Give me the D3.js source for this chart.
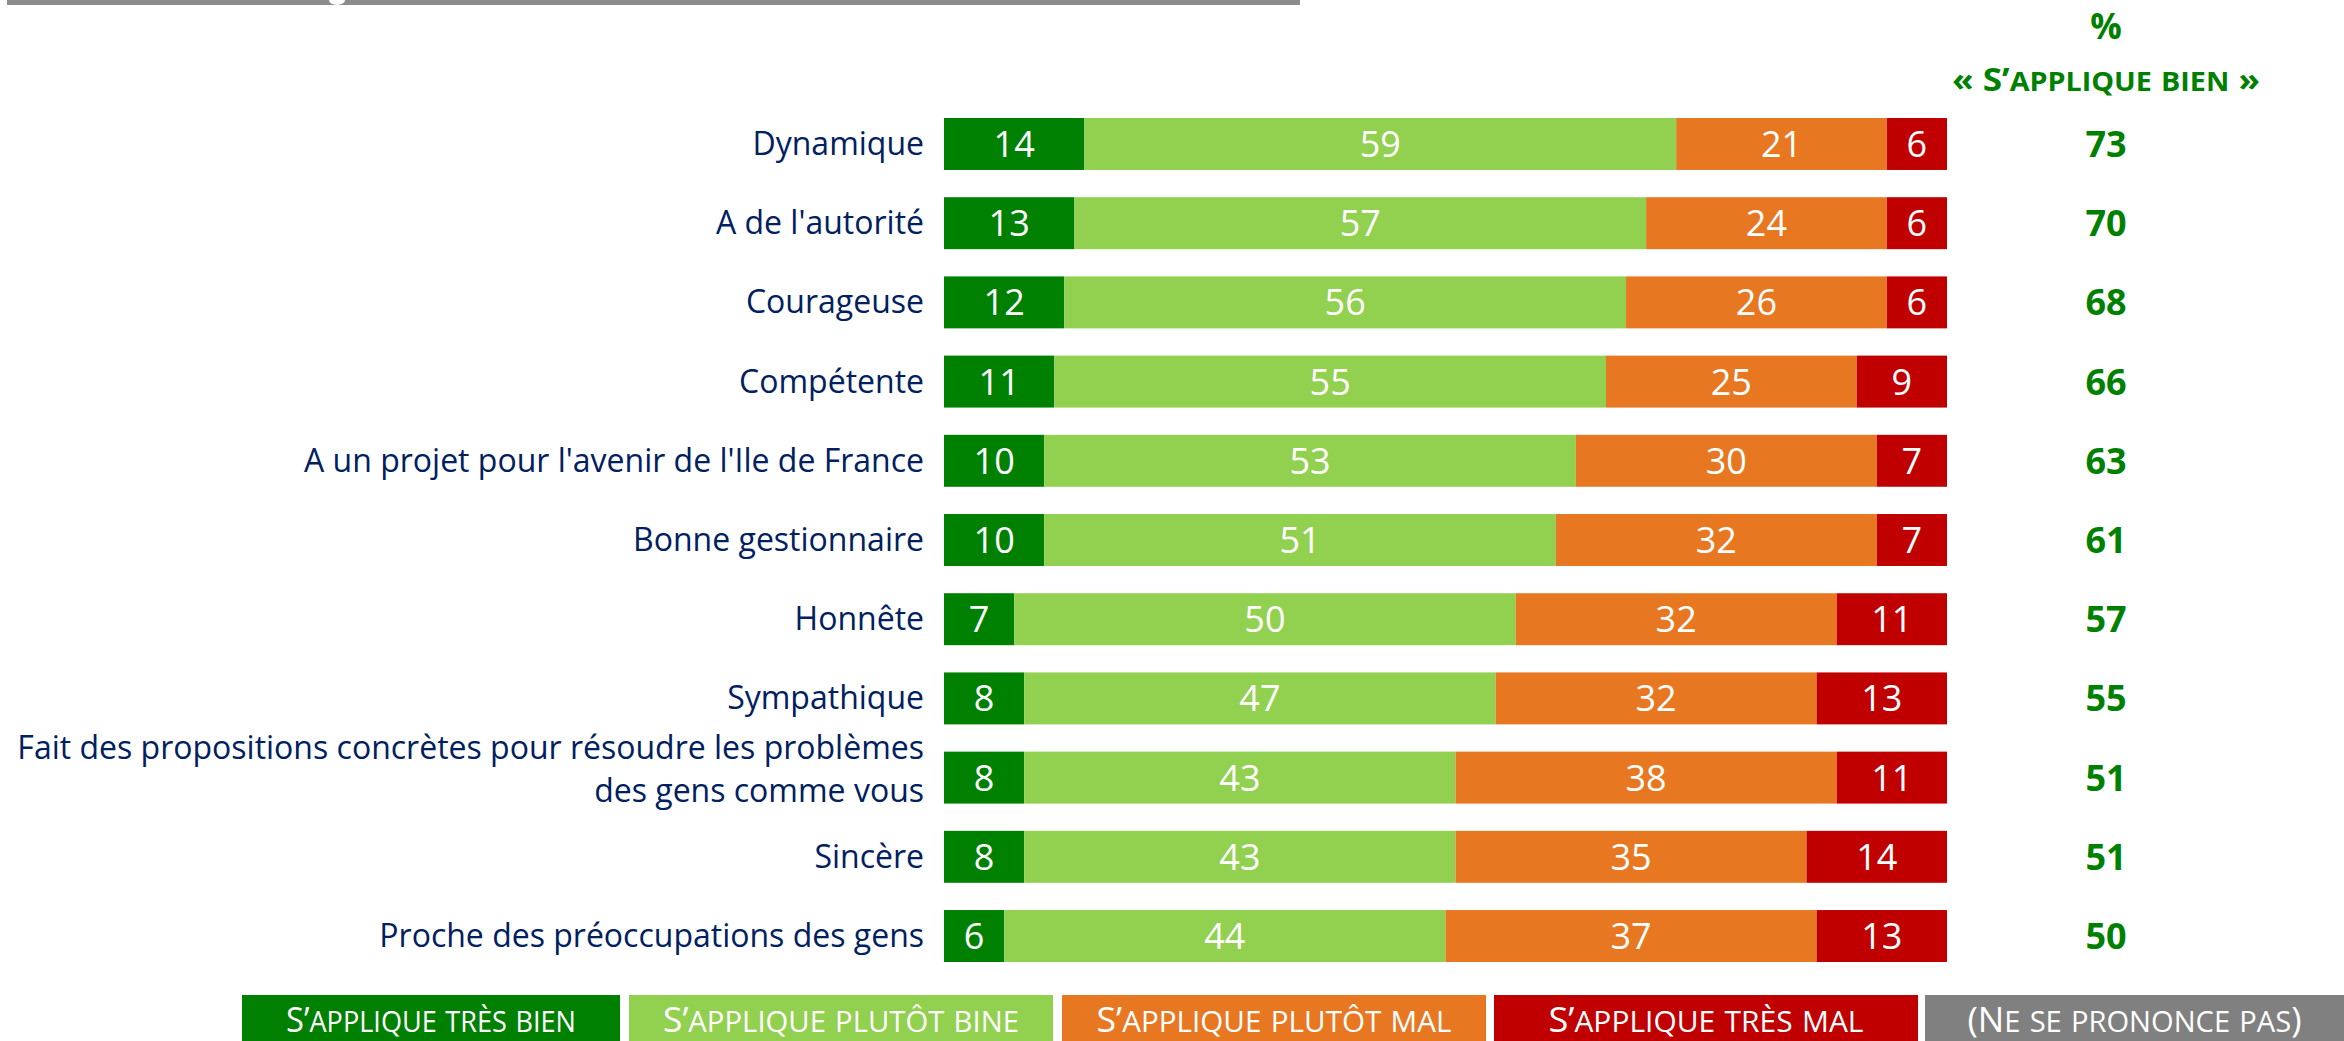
<!DOCTYPE html>
<html>
<head>
<meta charset="utf-8">
<script src="https://cdn.jsdelivr.net/npm/d3@7"></script>
<style>
  html, body { margin: 0; padding: 0; background: #fff; }
  svg { display: block; font-family: "Open Sans", "Noto Sans", sans-serif; }
</style>
</head>
<body>
<svg id="chart"></svg>
<script>
const categories = [
  "Dynamique",
  "A de l'autorité",
  "Courageuse",
  "Compétente",
  "A un projet pour l'avenir de l'Ile de France",
  "Bonne gestionnaire",
  "Honnête",
  "Sympathique",
  "Fait des propositions concrètes pour résoudre les problèmes|des gens comme vous",
  "Sincère",
  "Proche des préoccupations des gens",
];

const tresBien = [14, 13, 12, 11, 10, 10, 7, 8, 8, 8, 6];
const plutotBien = [59, 57, 56, 55, 53, 51, 50, 47, 43, 43, 44];
const plutotMal = [21, 24, 26, 25, 30, 32, 32, 32, 38, 35, 37];
const tresMal = [6, 6, 6, 9, 7, 7, 11, 13, 11, 14, 13];
const nspp = [0, 0, 0, 0, 0, 0, 0, 0, 0, 0, 0];
const totalBien = [73, 70, 68, 66, 63, 61, 57, 55, 51, 51, 50];

const seriesNames = [
  "S’applique très bien",
  "S’applique plutôt bine",
  "S’applique plutôt mal",
  "S’applique très mal",
  "(Ne se prononce pas)",
];
const seriesColors = ["#008000", "#92D050", "#E87722", "#C00000", "#808080"];

const width = 2344;
const height = 1041;

const svg = d3.select("#chart").attr("width", width).attr("height", height);

// small caps by hand: lowercase letters become smaller capitals
function smallCaps(sel, str, big, small) {
  const runs = [];
  for (const ch of str) {
    const lower = ch !== ch.toUpperCase();
    const last = runs[runs.length - 1];
    if (last && last.lower === lower) last.s += ch;
    else runs.push({ lower, s: ch });
  }
  runs.forEach((r) => {
    sel.append("tspan")
      .attr("font-size", r.lower ? small : big)
      .text(r.lower ? r.s.toUpperCase() : r.s);
  });
}

// cut-off title band at the very top
const head = svg.append("g");
head.append("rect").attr("x", 7).attr("y", 0).attr("width", 1293).attr("height", 5).attr("fill", "#8A8C8E");
head.append("ellipse").attr("cx", 337).attr("cy", 0).attr("rx", 8).attr("ry", 5).attr("fill", "#fff");

const x = d3.scaleLinear().domain([0, 100]).range([944, 1947]);
const y = d3.scaleBand().domain(categories).range([118, 962]).paddingInner(0.344).paddingOuter(0);

const rows = categories.map((c, i) => ({
  cat: c,
  values: [tresBien[i], plutotBien[i], plutotMal[i], tresMal[i], nspp[i]],
  total: totalBien[i],
}));

const segs = [];
rows.forEach((r) => {
  let acc = 0;
  r.values.forEach((v, k) => {
    if (v > 0) segs.push({ cat: r.cat, k, v, x0: acc, x1: acc + v });
    acc += v;
  });
});

const barLayer = svg.append("g");
barLayer.selectAll("rect")
  .data(segs)
  .join("rect")
  .attr("x", (d) => x(d.x0))
  .attr("y", (d) => y(d.cat))
  .attr("width", (d) => x(d.x1) - x(d.x0))
  .attr("height", y.bandwidth())
  .attr("fill", (d) => seriesColors[d.k]);

barLayer.selectAll("text")
  .data(segs)
  .join("text")
  .attr("x", (d) => (x(d.x0) + x(d.x1)) / 2)
  .attr("y", (d) => y(d.cat) + y.bandwidth() / 2)
  .attr("dy", "0.36em")
  .attr("text-anchor", "middle")
  .attr("fill", "#fff")
  .attr("font-size", 36)
  .text((d) => d.v);

// category labels, right aligned against the bars
const labelLayer = svg.append("g");
labelLayer.selectAll("text")
  .data(categories)
  .join("text")
  .attr("x", 924)
  .attr("y", (d) => y(d) + y.bandwidth() / 2)
  .attr("text-anchor", "end")
  .attr("fill", "#002060")
  .attr("font-size", 32)
  .each(function (d) {
    const lines = d.split("|");
    const t = d3.select(this);
    const lh = 43;
    const start = -((lines.length - 1) * lh) / 2 - (lines.length > 1 ? 8 : 0);
    lines.forEach((ln, i) => {
      t.append("tspan")
        .attr("x", 924)
        .attr("dy", i === 0 ? start + 11 : lh)
        .text(ln);
    });
  });

// right column: % s'applique bien
const colX = 2106;
svg.append("text")
  .attr("x", colX).attr("y", 39)
  .attr("text-anchor", "middle")
  .attr("fill", "#008000").attr("font-weight", "bold").attr("font-size", 35)
  .text("%");
svg.append("text")
  .attr("x", colX).attr("y", 91)
  .attr("text-anchor", "middle")
  .attr("fill", "#008000").attr("font-weight", "bold")
  .attr("textLength", 308).attr("lengthAdjust", "spacingAndGlyphs")
  .call((t) => smallCaps(t, "« S’applique bien »", 33, 27));

svg.append("g").selectAll("text")
  .data(rows)
  .join("text")
  .attr("x", colX)
  .attr("y", (d) => y(d.cat) + y.bandwidth() / 2)
  .attr("dy", "0.36em")
  .attr("text-anchor", "middle")
  .attr("fill", "#008000")
  .attr("font-weight", "bold")
  .attr("font-size", 36)
  .text((d) => d.total);

// legend boxes along the bottom
const legendBoxes = [
  { x0: 242, x1: 620, tw: 290 },
  { x0: 629, x1: 1053, tw: 356 },
  { x0: 1062, x1: 1486, tw: 355 },
  { x0: 1494, x1: 1918, tw: 315 },
  { x0: 1925, x1: 2344, tw: 334 },
];
const legend = svg.append("g").selectAll("g")
  .data(seriesNames)
  .join("g");
legend.append("rect")
  .attr("x", (d, i) => legendBoxes[i].x0)
  .attr("y", 995)
  .attr("width", (d, i) => legendBoxes[i].x1 - legendBoxes[i].x0)
  .attr("height", 46)
  .attr("fill", (d, i) => seriesColors[i]);
legend.append("text")
  .attr("x", (d, i) => (legendBoxes[i].x0 + legendBoxes[i].x1) / 2)
  .attr("y", 1032)
  .attr("text-anchor", "middle")
  .attr("fill", "#fff")
  .attr("textLength", (d, i) => legendBoxes[i].tw)
  .attr("lengthAdjust", "spacingAndGlyphs")
  .each(function (d) {
    smallCaps(d3.select(this), d, 35, 29);
  });
</script>
</body>
</html>
